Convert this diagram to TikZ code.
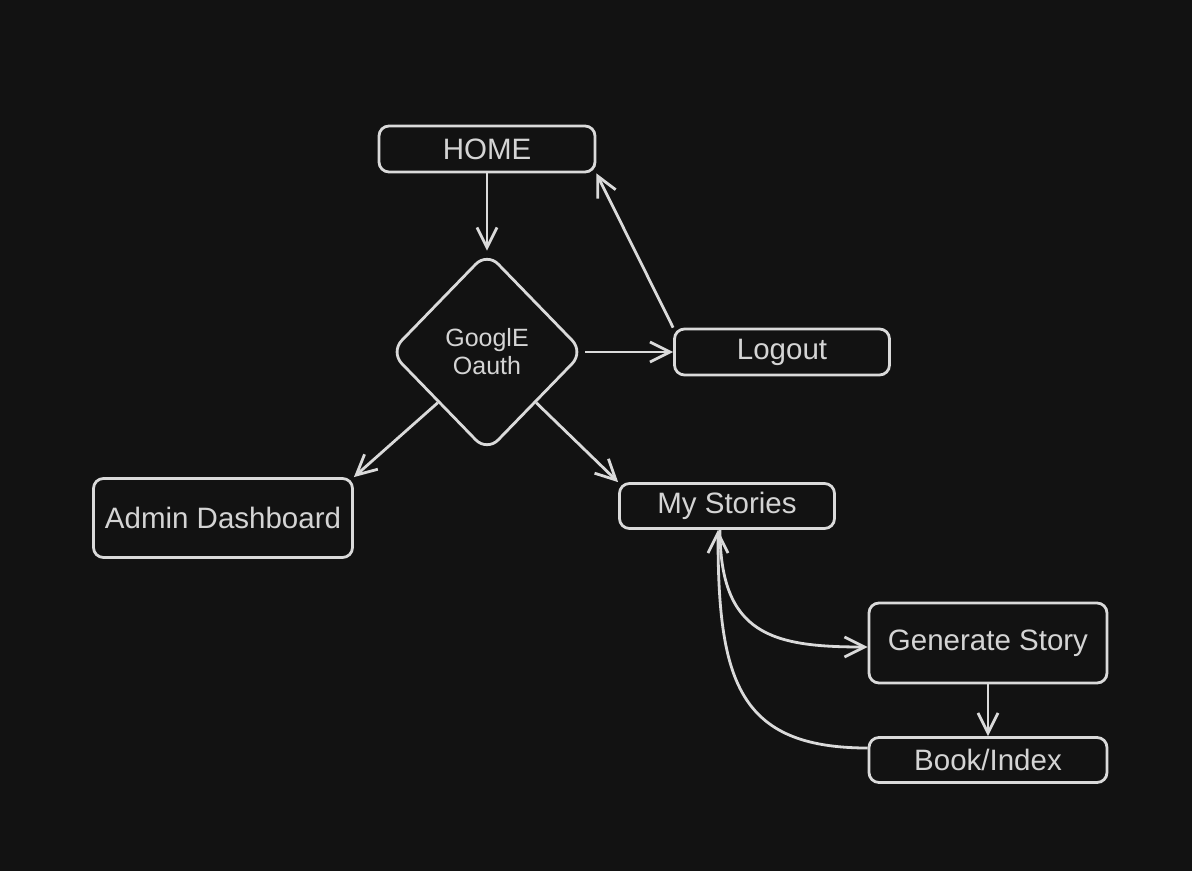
\documentclass[tikz,border=0pt]{standalone}
\usepackage{fontspec}
\setmainfont{Liberation Sans}
\usepackage{xcolor}
\usetikzlibrary{positioning, arrows.meta, shapes.geometric}
\definecolor{sfondo}{RGB}{18,18,18}
\definecolor{tratto}{RGB}{218,218,218}
\definecolor{testo}{RGB}{212,212,212}
\tikzset{
    >={Straight Barb[length=20pt,width=20pt]}, % punta aperta
    box/.style={draw=tratto, line width=2.8pt, rounded corners=10pt, text=testo, inner sep=0pt, font=\fontsize{29.5}{34}\selectfont}, % rettangoli
    rombo/.style={diamond, draw=tratto, line width=2.8pt, rounded corners=16pt, text=testo, inner sep=0pt, align=center, minimum width=194pt, minimum height=200pt, font=\fontsize{25}{28}\selectfont}, % decisione
    freccia/.style={color=tratto, line width=2.8pt, ->}, % collegamenti
}

\begin{document}
\begin{tikzpicture}[x=1pt, y=1pt, on grid]

            % Sfondo
            \fill[sfondo] (0,0) rectangle (1192,-871);
            \useasboundingbox (0,0) rectangle (1192,-871);

            % Nodi
            \node[box, minimum width=216pt, minimum height=46pt] (home) at (487,-149) {HOME};
            \node[rombo] (oauth) [below=203pt of home] {GooglE\\Oauth};
            \node[box, minimum width=215pt, minimum height=46pt] (logout) [right=295pt of oauth] {Logout};
            \node[box, minimum width=259pt, minimum height=79pt] (admin) [below left=166pt and 264pt of oauth] {Admin Dashboard};
            \node[box, minimum width=215pt, minimum height=45pt] (mystories) [below right=154pt and 240pt of oauth] {My Stories};
            \node[box, minimum width=238pt, minimum height=80pt] (genstory) [below right=137pt and 261pt of mystories] {Generate Story};
            \node[box, minimum width=238pt, minimum height=45pt] (book) [below=117pt of genstory] {Book/Index};

            % Frecce
            \path[freccia]
                (home) edge (oauth) % login
                (oauth) edge (logout)
                (oauth.south west) edge (admin.north east) % admin
                (oauth.south east) edge (mystories.north west)
                (logout.north west) edge (home.south east) % ritorno a home
                ([xshift=-7pt]mystories.south) edge[out=-90, in=180, out distance=105pt, in distance=95pt] ([yshift=-4pt]genstory.west)
                (genstory) edge (book)
                ([yshift=12pt]book.west) edge[out=180, in=-90, out distance=130pt, in distance=150pt] ([xshift=-9pt]mystories.south);

        \end{tikzpicture}
\end{document}
